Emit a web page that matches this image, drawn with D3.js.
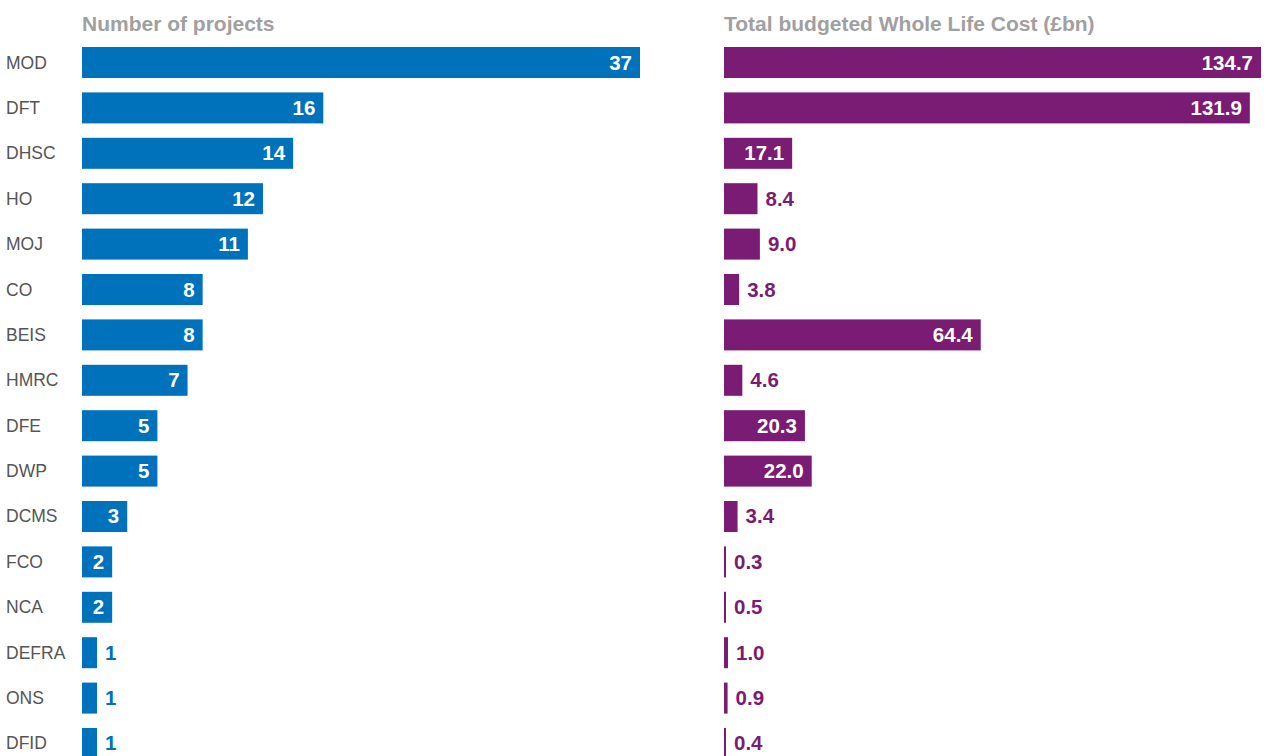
<!DOCTYPE html>
<html>
<head>
<meta charset="utf-8">
<script src="https://cdn.jsdelivr.net/npm/d3@7"></script>
<style>
  body { margin: 0; background: #fff; }
  svg { display: block; font-family: "Liberation Sans", Arial, sans-serif; }
</style>
</head>
<body>
<svg id="chart" width="1283" height="756"></svg>
<script>
(function() {

  var departments = ["MOD", "DFT", "DHSC", "HO", "MOJ", "CO", "BEIS", "HMRC", "DFE", "DWP", "DCMS", "FCO", "NCA", "DEFRA", "ONS", "DFID"];
  var projects = [37, 16, 14, 12, 11, 8, 8, 7, 5, 5, 3, 2, 2, 1, 1, 1];
  var wholeLifeCost = [134.7, 131.9, 17.1, 8.4, 9.0, 3.8, 64.4, 4.6, 20.3, 22.0, 3.4, 0.3, 0.5, 1.0, 0.9, 0.4];
  var titles = ["Number of projects", "Total budgeted Whole Life Cost (£bn)"];

  var blue = "#0072bb";
  var purple = "#7a1c73";

  var svg = d3.select("#chart");

  var y = d3.scaleBand()
      .domain(departments)
      .range([47, 759])
      .paddingInner(0.317)
      .paddingOuter(0);

  var xLeft = d3.scaleLinear().domain([0, 37]).range([82, 640]);
  var xRight = d3.scaleLinear().domain([0, 134.7]).range([724, 1261]);

  // category labels
  svg.append("g").selectAll("text")
      .data(departments)
      .enter().append("text")
      .attr("x", 6)
      .attr("y", function(d) { return y(d) + y.bandwidth() / 2 + 6; })
      .attr("font-size", 17.5)
      .attr("fill", "#555")
      .text(function(d) { return d; });

  // panel titles
  svg.append("text")
      .attr("x", 82).attr("y", 31)
      .attr("font-size", 21).attr("font-weight", "bold")
      .attr("fill", "#a0a0a0")
      .text(titles[0]);
  svg.append("text")
      .attr("x", 724).attr("y", 31)
      .attr("font-size", 21).attr("font-weight", "bold")
      .attr("fill", "#a0a0a0")
      .text(titles[1]);

  function drawBars(values, x, color, fmt) {
    var g = svg.append("g");
    var rows = values.map(function(v, i) { return {dept: departments[i], value: v}; });

    g.selectAll("rect")
        .data(rows)
        .enter().append("rect")
        .attr("x", x(0))
        .attr("y", function(d) { return y(d.dept); })
        .attr("height", y.bandwidth())
        .attr("width", function(d) { return Math.max(2, x(d.value) - x(0)); })
        .attr("fill", color);

    g.selectAll("text")
        .data(rows)
        .enter().append("text")
        .attr("y", function(d) { return y(d.dept) + y.bandwidth() / 2 + 7; })
        .attr("font-size", 20.5)
        .attr("font-weight", "bold")
        .text(function(d) { return fmt(d.value); })
        .each(function(d) {
          var t = d3.select(this);
          var tw = this.getComputedTextLength();
          var bw = x(d.value) - x(0);
          if (bw > tw + 16) {
            t.attr("x", x(d.value) - 8).attr("text-anchor", "end").attr("fill", "#fff");
          } else {
            t.attr("x", Math.max(x(0) + 2, x(d.value)) + 8).attr("text-anchor", "start").attr("fill", color);
          }
        });
  }

  drawBars(projects, xLeft, blue, d3.format("d"));
  drawBars(wholeLifeCost, xRight, purple, d3.format(".1f"));

})();
</script>
</body>
</html>
